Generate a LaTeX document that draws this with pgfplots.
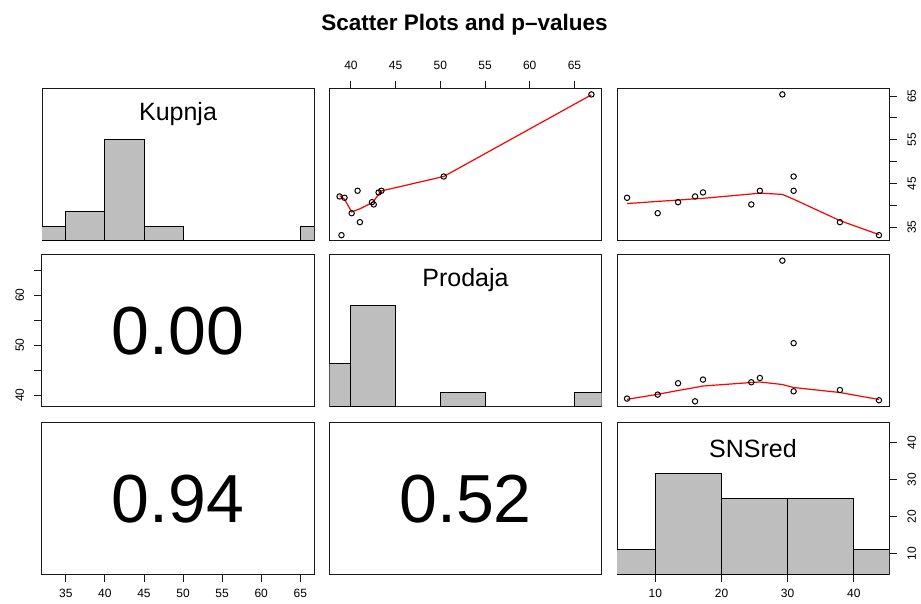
\documentclass[border=0pt]{standalone}
\usepackage{fontspec}
\setmainfont{Liberation Sans}
\usepackage{pgfplots}
\usepackage{pgfplotstable}
\pgfplotsset{compat=1.18}

\definecolor{histgray}{RGB}{190,190,190}

% the twelve observations
\pgfplotstableread{
kup   prod  sns
41.73 39.28  5.72
38.20 40.08 10.35
40.72 42.35 13.43
42.03 38.73 16.00
42.95 43.09 17.20
40.20 42.55 24.50
43.33 43.41 25.80
65.39 66.90 29.20
46.60 50.38 30.90
43.33 40.74 30.90
36.15 41.00 37.90
33.17 38.94 43.80
}\pairs

% histogram counts (left edges, last row = right edge)
\pgfplotstableread{
edge count
30 1
35 2
40 7
45 1
50 0
55 0
60 0
65 1
70 0
}\kuphist
\pgfplotstableread{
edge count
35 3
40 7
45 0
50 1
55 0
60 0
65 1
70 0
}\prodhist
\pgfplotstableread{
edge count
0  1
10 4
20 3
30 3
40 1
50 0
}\snshist

\pgfplotsset{
  panel/.style={
    scale only axis, width=272pt, height=152pt, anchor=south west,
    axis line style={line width=1pt, black!90},
    xtick=\empty, ytick=\empty,
    tick align=outside, major tick length=7.5pt,
    tick style={line width=1pt, black!90},
    tick label style={font=\fontsize{12}{13}\selectfont},
    /pgf/number format/assume math mode=true,
  },
  hist/.style={ybar interval, fill=histgray, draw=black, line width=1pt},
  pts/.style={only marks, mark=o, mark size=2.7pt, black, mark options={line width=1pt}},
  smooth line/.style={red, line width=1.2pt, mark=none},
  toplab/.style={xtick pos=right, xticklabel pos=right, xticklabel style={yshift=8pt}},
  botlab/.style={xtick pos=left, xticklabel style={yshift=-3pt}},
  % shifts act in the rotated frame: yshift moves across the axis
  leftrot/.style={ytick pos=left, yticklabel style={rotate=90, anchor=south, yshift=7pt}},
  rightrot/.style={ytick pos=right, yticklabel pos=right, yticklabel style={rotate=90, anchor=north, yshift=-7.5pt}},
}
\newcommand{\varfont}{\fontsize{25}{27}\selectfont}
\newcommand{\pfont}{\fontsize{68}{70}\selectfont}

\begin{document}
\begin{tikzpicture}
\useasboundingbox (0pt,0pt) rectangle (921pt,604pt);
\node[font=\fontsize{22.5}{24}\selectfont\bfseries, anchor=base] at (464.5pt,573.3pt) {Scatter Plots and p–values};

% ---- row 1
\begin{axis}[panel, at={(42pt,363.5pt)}, xmin=31.95, xmax=66.75, ymin=0, ymax=1.5]
\addplot[hist] table[x=edge, y expr=\thisrow{count}/7] {\kuphist};
\node[font=\varfont] at (rel axis cs:0.5,0.833) {Kupnja};
\end{axis}

\begin{axis}[panel, at={(329.5pt,363.5pt)}, xmin=37.6, xmax=68.03, ymin=31.95, ymax=66.75,
  xtick={40,45,50,55,60,65}, toplab]
\addplot[smooth line] coordinates {
  (38.73,42.2) (38.94,41.9) (39.28,41.4) (40.08,38.5) (40.74,39.0) (41.0,39.2)
  (42.35,40.6) (42.55,41.0) (43.09,42.5) (43.41,43.3) (50.38,46.6) (66.9,65.3)};
\addplot[pts] table[x=prod, y=kup] {\pairs};
\end{axis}

\begin{axis}[panel, at={(617pt,363.5pt)}, xmin=4.2, xmax=45.32, ymin=31.95, ymax=66.75,
  rightrot, ytick={35,40,45,50,55,60,65}, yticklabels={35,,45,,55,,65}]
\addplot[smooth line] coordinates {
  (5.72,40.4) (10.35,40.9) (13.43,41.2) (16.0,41.5) (17.2,41.6) (24.5,42.6)
  (25.8,42.8) (29.2,42.5) (30.9,41.4) (37.9,36.5) (43.8,33.3)};
\addplot[pts] table[x=sns, y=kup] {\pairs};
\end{axis}

% ---- row 2
\begin{axis}[panel, at={(42pt,197pt)}, xmin=0, xmax=1, ymin=37.6, ymax=68.03,
  leftrot, ytick={40,45,50,55,60,65}, yticklabels={40,,50,,60,}]
\node[font=\pfont] at (rel axis cs:0.5,0.5) {0.00};
\end{axis}

\begin{axis}[panel, at={(329.5pt,197pt)}, xmin=37.6, xmax=68.03, ymin=0, ymax=1.5]
\addplot[hist] table[x=edge, y expr=\thisrow{count}/7] {\prodhist};
\node[font=\varfont] at (rel axis cs:0.5,0.833) {Prodaja};
\end{axis}

\begin{axis}[panel, at={(617pt,197pt)}, xmin=4.2, xmax=45.32, ymin=37.6, ymax=68.03]
\addplot[smooth line] coordinates {
  (5.72,39.14) (10.35,40.14) (13.43,40.9) (16.0,41.5) (17.2,41.8) (24.5,42.5)
  (25.8,42.6) (29.2,42.1) (30.9,41.5) (37.9,40.5) (43.8,39.1)};
\addplot[pts] table[x=sns, y=prod] {\pairs};
\end{axis}

% ---- row 3
\begin{axis}[panel, at={(42pt,29pt)}, xmin=31.95, xmax=66.75, ymin=0, ymax=1,
  xtick={35,40,45,50,55,60,65}, botlab]
\node[font=\pfont] at (rel axis cs:0.5,0.5) {0.94};
\end{axis}

\begin{axis}[panel, at={(329.5pt,29pt)}, xmin=0, xmax=1, ymin=0, ymax=1]
\node[font=\pfont] at (rel axis cs:0.5,0.5) {0.52};
\end{axis}

\begin{axis}[panel, at={(617pt,29pt)}, xmin=4.2, xmax=45.32, ymin=0, ymax=1.5,
  xtick={10,20,30,40}, botlab,
  rightrot, ytick={0.2116,0.5764,0.9412,1.3060}, yticklabels={10,20,30,40}]
\addplot[hist] table[x=edge, y expr=\thisrow{count}/4] {\snshist};
\node[font=\varfont] at (rel axis cs:0.5,0.833) {SNSred};
\end{axis}
\end{tikzpicture}
\end{document}
